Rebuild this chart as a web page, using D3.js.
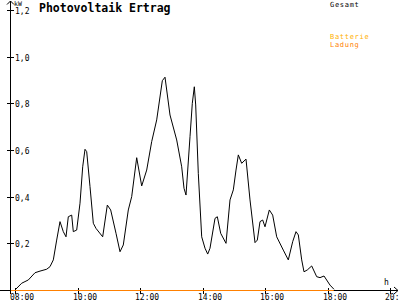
<!DOCTYPE html>
<html><head><meta charset="utf-8">
<script src="https://cdn.jsdelivr.net/npm/d3@7"></script>
<style>
html,body{margin:0;padding:0;background:#fff;}
svg{display:block;}
text{font-family:"DejaVu Sans Mono",monospace;}
</style></head>
<body>
<script>
// Data (decimal hours, kW)
const gesamtTimes = [8.00,8.214,8.426,8.64,8.80,9.014,9.12,9.226,9.334,9.44,9.546,9.632,9.706,9.814,9.866,9.974,10.08,10.166,10.24,10.294,10.40,10.506,10.592,10.806,10.954,11.062,11.232,11.36,11.466,11.626,11.734,11.894,12.054,12.214,12.374,12.534,12.714,12.80,12.96,13.174,13.334,13.408,13.472,13.60,13.674,13.738,13.782,13.866,13.974,14.08,14.166,14.24,14.40,14.474,14.582,14.752,14.88,14.986,15.072,15.146,15.254,15.392,15.52,15.68,15.754,15.84,15.926,16.00,16.138,16.246,16.374,16.586,16.746,16.886,16.992,17.066,17.174,17.248,17.354,17.494,17.654,17.76,17.888,18.08,18.208];
const gesamtValues = [0.000,0.029,0.043,0.074,0.081,0.089,0.100,0.129,0.214,0.293,0.250,0.228,0.314,0.321,0.250,0.257,0.372,0.528,0.603,0.593,0.443,0.286,0.264,0.228,0.364,0.343,0.243,0.164,0.193,0.343,0.400,0.567,0.446,0.514,0.636,0.729,0.897,0.912,0.750,0.643,0.528,0.436,0.407,0.657,0.800,0.871,0.793,0.500,0.228,0.179,0.154,0.179,0.307,0.314,0.243,0.200,0.386,0.429,0.514,0.579,0.543,0.561,0.386,0.203,0.214,0.293,0.300,0.271,0.343,0.321,0.228,0.171,0.129,0.207,0.250,0.236,0.129,0.078,0.086,0.103,0.057,0.053,0.060,0.021,0.003];
const ladungTimes = [7.87, 18.2];
const ladungValues = [0, 0];
const xTickValues = [8,10,12,14,16,18,20];
const xTickLabels = ["08:00","10:00","12:00","14:00","16:00","18:00","20:"];
const yTickValues = [0.2,0.4,0.6,0.8,1.0,1.2];
const yTickLabels = ["0,2","0,4","0,6","0,8","1,0","1,2"];
const legendLabels = ["Gesamt","Batterie","Ladung"];
const legendColors = ["#000000","#ffb000","#ff8000"];

const W=400,H=300;
const svg=d3.select("body").append("svg").attr("width",W).attr("height",H);
const x=d3.scaleLinear().domain([8,20]).range([15,390]);
const y=d3.scaleLinear().domain([0,1.2]).range([290,10]);
const ax=10.5, ay=290.5;

// axes lines
svg.append("line").attr("x1",0).attr("x2",398).attr("y1",ay).attr("y2",ay).attr("stroke","#000");
svg.append("line").attr("x1",ax).attr("x2",ax).attr("y1",1).attr("y2",294).attr("stroke","#000");
// arrows
svg.append("path").attr("d",`M${ax-3.5},${4.5}L${ax},1L${ax+3.5},${4.5}`).attr("fill","none").attr("stroke","#000");
svg.append("path").attr("d",`M394,${ay-3.5}L398,${ay}L394,${ay+3.5}`).attr("fill","none").attr("stroke","#000");

// x ticks
const xg=svg.append("g");
xTickValues.forEach((v,i)=>{
  const px=Math.round(x(v))+0.5;
  xg.append("line").attr("x1",px).attr("x2",px).attr("y1",288).attr("y2",294).attr("stroke","#000");
  xg.append("text").attr("x",px-5.5).attr("y",299.5).attr("font-size",8).attr("fill","#000").text(xTickLabels[i]);
});
// y ticks
const yg=svg.append("g");
yTickValues.forEach((v,i)=>{
  const py=Math.round(y(v))+0.5;
  yg.append("line").attr("x1",7).attr("x2",14).attr("y1",py).attr("y2",py).attr("stroke","#000");
  yg.append("text").attr("x",15).attr("y",py+3.2).attr("font-size",8).attr("fill","#000").text(yTickLabels[i]);
});
svg.append("text").attr("x",14).attr("y",5.5).attr("font-size",6.5).text("kW");
svg.append("text").attr("x",384).attr("y",284.5).attr("font-size",8).text("h");

// title
svg.append("text").attr("x",39).attr("y",12).attr("font-size",11.5).attr("font-weight","bold").text("Photovoltaik Ertrag");

// legend
const legY=[7,38.5,46.5];
legendLabels.forEach((l,i)=>{
  svg.append("text").attr("x",330).attr("y",legY[i]).attr("font-size",7).attr("letter-spacing",0.7).attr("fill",legendColors[i]).text(l);
});

// series
const line=d3.line().x(d=>x(d[0])).y(d=>y(d[1]));
svg.append("path").datum(ladungTimes.map((t,i)=>[t,ladungValues[i]]))
  .attr("d",d3.line().x(d=>x(d[0])).y(d=>y(d[1])+0.5)).attr("fill","none").attr("stroke","#ff8000").attr("stroke-width",1.2);
svg.append("path").datum(gesamtTimes.map((t,i)=>[t,gesamtValues[i]]))
  .attr("d",line).attr("fill","none").attr("stroke","#000").attr("stroke-width",1);
</script>
</body></html>
